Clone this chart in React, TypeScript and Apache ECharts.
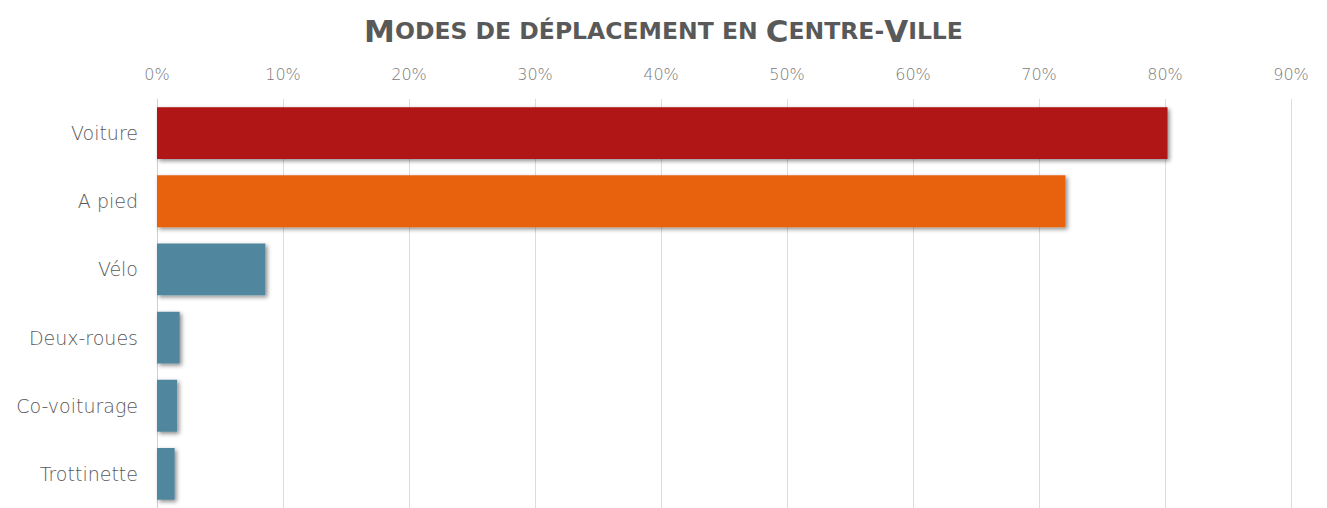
import React, { useEffect, useRef } from "react";
import * as echarts from "echarts";

const categories = ["Voiture", "A pied", "Vélo", "Deux-roues", "Co-voiturage", "Trottinette"];
const values = [80.2, 72.1, 8.6, 1.8, 1.6, 1.4];
const barColors = ["#B01414", "#E8620F", "#51879E", "#51879E", "#51879E", "#51879E"];
const xTicks = [0, 10, 20, 30, 40, 50, 60, 70, 80, 90];

export default function App() {
  const ref = useRef<HTMLDivElement>(null);
  useEffect(() => {
    if (!ref.current) return;
    const chart = echarts.init(ref.current, undefined, { renderer: "svg" });
    const font = "'DejaVu Sans', sans-serif";
    chart.setOption({
      animation: false,
      backgroundColor: "#ffffff",
      title: {
        text: "{b|M}{s|ODES DE DÉPLACEMENT EN }{b|C}{s|ENTRE-}{b|V}{s|ILLE}",
        left: "center",
        top: 10,
        textStyle: {
          rich: {
            b: { fontSize: 31, fontWeight: "bold", color: "#595959", fontFamily: font },
            s: { fontSize: 23.5, fontWeight: "bold", color: "#595959", fontFamily: font },
          },
        },
      },
      grid: { left: 157, right: 36, top: 99, height: 413, containLabel: false },
      xAxis: {
        type: "value",
        position: "top",
        min: xTicks[0],
        max: xTicks[xTicks.length - 1],
        interval: 10,
        axisLabel: { formatter: "{value}%", color: "#7a7a7a", fontSize: 16, fontWeight: 200, fontFamily: font, margin: 17 },
        axisLine: { show: false },
        axisTick: { show: false },
        splitLine: { show: true, lineStyle: { color: "#dcdcdc", width: 1 } },
      },
      yAxis: {
        type: "category",
        data: categories,
        inverse: true,
        axisLabel: { color: "#595959", fontSize: 19, fontWeight: 200, fontFamily: font, margin: 19 },
        axisLine: { show: true, lineStyle: { color: "#cfcfcf", width: 1 } },
        axisTick: { show: false },
      },
      series: [
        {
          type: "bar",
          data: values.map((v, i) => ({
            value: v,
            itemStyle: {
              color: barColors[i],
              shadowColor: "rgba(0,0,0,0.45)",
              shadowBlur: 4,
              shadowOffsetX: 2,
              shadowOffsetY: 2,
            },
          })),
          barCategoryGap: "24%",
        },
      ],
    });
    return () => chart.dispose();
  }, []);
  return (
    <div
      ref={ref}
      style={{ position: "absolute", left: 0, top: 0, width: 1327, height: 508 }}
    />
  );
}
